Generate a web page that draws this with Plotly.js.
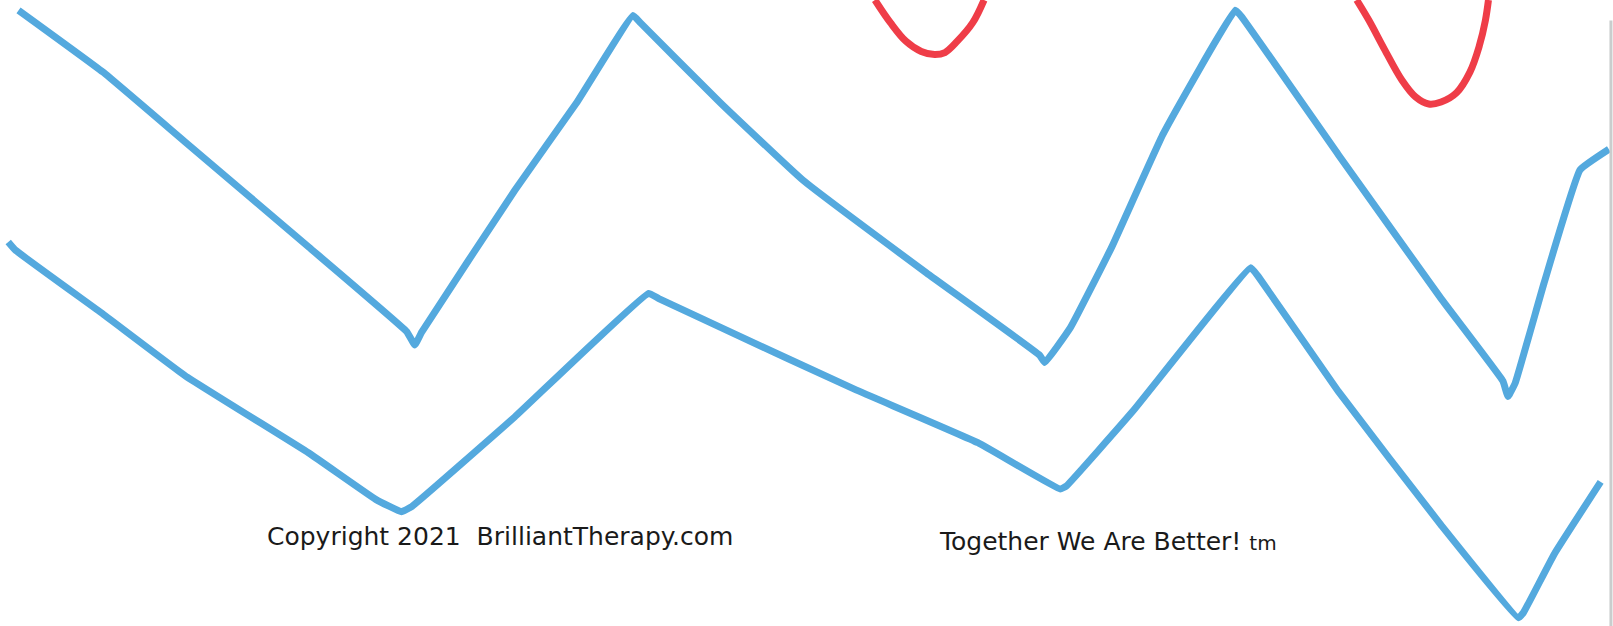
<!DOCTYPE html>
<html>
<head>
<meta charset="utf-8">
<script src="https://cdn.plot.ly/plotly-3.0.1.min.js"></script>
<style>html,body{margin:0;padding:0;background:#fff;}#chart{width:1613px;height:626px;}</style>
</head>
<body>
<div id="chart"></div>
<script>
// Top blue zigzag
const topX = [18, 100, 180, 300, 395, 403, 410, 500, 560, 615, 622, 700, 780, 900, 1010, 1015, 1040, 1080, 1130, 1200, 1206, 1300, 1400, 1460, 1465, 1472, 1500, 1535, 1563];
const topY = [10, 70, 138, 240, 322, 335, 322, 185, 100, 15, 22, 100, 175, 265, 345, 352, 318, 240, 130, 10, 16, 150, 290, 370, 385, 372, 275, 165, 145];
// Bottom blue zigzag
const botX = [8, 15, 100, 180, 300, 365, 390, 400, 500, 630, 640, 700, 830, 950, 1030, 1036, 1100, 1215, 1222, 1300, 1400, 1475, 1480, 1510, 1555];
const botY = [235, 243, 305, 365, 440, 485, 497, 492, 405, 285, 290, 318, 378, 430, 475, 472, 400, 260, 268, 380, 510, 600, 595, 538, 468];
// Red curves at the top
const red1X = [850, 865, 880, 895, 908, 918, 930, 945, 956];
const red1Y = [0, 22, 40, 50, 53, 51, 40, 22, 0];
const red2X = [1318, 1330, 1345, 1362, 1375, 1388, 1400, 1415, 1428, 1437, 1443, 1446];
const red2Y = [0, 20, 48, 78, 94, 101, 99, 90, 70, 45, 20, 0];
// Footer texts
const footLabels = ["Copyright 2021  BrilliantTherapy.com", "Together We Are Better! <span style='font-size:20px'>tm</span>"];
const footX = [257, 910];
const footY = [521, 526];

const blue = '#54a9de';
const red = '#ef3d48';
const traces = [
  {x: topX, y: topY, mode: 'lines', line: {color: blue, width: 7, shape: 'spline', smoothing: 0.3}, hoverinfo: 'skip'},
  {x: botX, y: botY, mode: 'lines', line: {color: blue, width: 7, shape: 'spline', smoothing: 0.3}, hoverinfo: 'skip'},
  {x: red1X, y: red1Y, mode: 'lines', line: {color: red, width: 7, shape: 'spline'}, hoverinfo: 'skip'},
  {x: red2X, y: red2Y, mode: 'lines', line: {color: red, width: 7, shape: 'spline'}, hoverinfo: 'skip'}
];

const layout = {
  width: 1613, height: 626,
  margin: {l: 0, r: 0, t: 0, b: 0},
  paper_bgcolor: '#ffffff', plot_bgcolor: '#ffffff',
  showlegend: false,
  xaxis: {range: [0, 1567], visible: false, fixedrange: true},
  yaxis: {range: [608, 0], visible: false, fixedrange: true},
  annotations: footLabels.map((t, i) => ({
    x: footX[i], y: footY[i], xref: 'x', yref: 'y', text: t, showarrow: false,
    xanchor: 'left', yanchor: 'middle',
    font: {family: 'DejaVu Sans, sans-serif', size: 25, color: '#1a1a1a'}
  })),
  shapes: [
    {type: 'line', xref: 'x', yref: 'y', x0: 1565, x1: 1565, y0: 20, y1: 608, line: {color: '#c9cdcd', width: 3}}
  ]
};

Plotly.newPlot('chart', traces, layout, {displayModeBar: false, staticPlot: true});
</script>
</body>
</html>
